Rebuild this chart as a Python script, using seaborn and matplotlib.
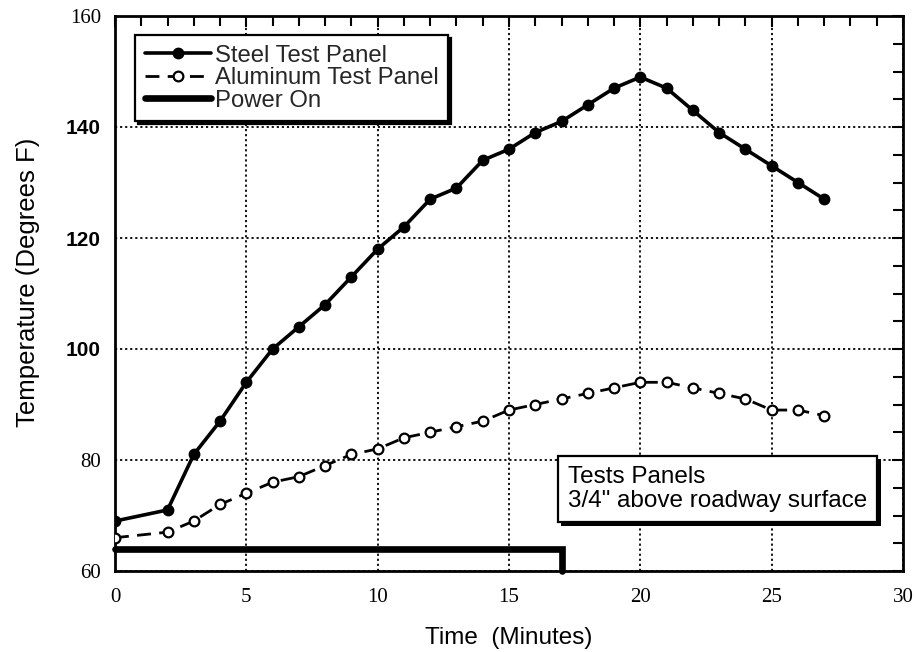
import matplotlib
matplotlib.use("Agg")
import matplotlib.pyplot as plt
import matplotlib.patheffects as pe
from matplotlib.font_manager import FontProperties
from matplotlib.ticker import MultipleLocator
import seaborn as sns

# Time in minutes (no reading was taken at minute 1)
time_min = [0, 2, 3, 4, 5, 6, 7, 8, 9, 10, 11, 12, 13, 14, 15, 16, 17, 18,
            19, 20, 21, 22, 23, 24, 25, 26, 27]
steel_temp = [69, 71, 81, 87, 94, 100, 104, 108, 113, 118, 122, 127, 129, 134,
              136, 139, 141, 144, 147, 149, 147, 143, 139, 136, 133, 130, 127]
aluminum_temp = [66, 67, 69, 72, 74, 76, 77, 79, 81, 82, 84, 85, 86, 87, 89,
                 90, 91, 92, 93, 94, 94, 93, 92, 91, 89, 89, 88]

# Heater power trace: on at 64 F level until minute 17, then switched off
power_time = [0, 17, 17]
power_level = [64, 64, 60]

x_ticks = [0, 5, 10, 15, 20, 25, 30]
y_ticks = [60, 80, 100, 120, 140, 160]
y_bold_labels = {"100", "120", "140"}

series_labels = ["Steel Test Panel", "Aluminum Test Panel", "Power On"]
note_text = 'Tests Panels\n3/4" above roadway surface'

sns.set_theme(style="white")
plt.rcParams["font.family"] = ["Liberation Sans", "DejaVu Sans"]

SANS = "Liberation Sans"
SERIF = "Liberation Serif"

fig = plt.figure(figsize=(9.16, 6.52), dpi=100)
fig.patch.set_facecolor("white")
ax = fig.add_axes([115 / 916, 81 / 652, 788 / 916, 555 / 652])
ax.set_facecolor("white")

sns.lineplot(x=time_min, y=steel_temp, ax=ax, color="black", linewidth=2.6,
             marker="o", markersize=7.5, markerfacecolor="black",
             markeredgecolor="black", markeredgewidth=1.0,
             label=series_labels[0], legend=False, zorder=3)
steel_line = ax.lines[-1]

sns.lineplot(x=time_min, y=aluminum_temp, ax=ax, color="black", linewidth=2.0,
             linestyle=(0, (5, 3)), marker="o", markersize=7,
             markerfacecolor="white", markeredgecolor="black",
             markeredgewidth=1.6, label=series_labels[1], legend=False,
             zorder=3)
alum_line = ax.lines[-1]

sns.lineplot(x=power_time, y=power_level, ax=ax, color="black", linewidth=4.8,
             sort=False, estimator=None, label=series_labels[2],
             legend=False, zorder=3, solid_joinstyle="miter", clip_on=False)
power_line = ax.lines[-1]

ax.set_xlim(0, 30)
ax.set_ylim(60, 160)

ax.set_xticks(x_ticks)
ax.set_xticklabels([str(v) for v in x_ticks])
ax.set_yticks(y_ticks)
ax.set_yticklabels([str(v) for v in y_ticks])
ax.xaxis.set_minor_locator(MultipleLocator(1))
ax.yaxis.set_minor_locator(MultipleLocator(5))

for lbl in ax.get_xticklabels():
    lbl.set_fontproperties(FontProperties(family=SERIF, size=15))
for lbl in ax.get_yticklabels():
    if lbl.get_text() in y_bold_labels:
        lbl.set_fontproperties(FontProperties(family=SANS, size=15, weight="bold"))
    else:
        lbl.set_fontproperties(FontProperties(family=SERIF, size=15))

ax.tick_params(which="both", direction="in", top=True, right=True,
               width=1.5, color="black", labelcolor="black")
ax.tick_params(which="major", length=8)
ax.tick_params(which="minor", length=7)
ax.tick_params(axis="x", which="major", pad=12)
ax.tick_params(axis="y", which="major", pad=10)

ax.grid(True, which="major", color="black", linestyle=(0, (1.2, 1.6)),
        linewidth=1.3)
ax.set_axisbelow(True)

for s in ax.spines.values():
    s.set_visible(True)
    s.set_color("black")
    s.set_linewidth(2.0)

ax.set_xlabel("Time  (Minutes)", fontsize=17.5, family=SANS, color="black")
ax.set_ylabel("Temperature (Degrees F)", fontsize=18.5, family=SANS, color="black")
ax.xaxis.label.set_verticalalignment("center")
ax.yaxis.label.set_verticalalignment("center")
ax.xaxis.set_label_coords(0.5, (571 - 638) / 555)
ax.yaxis.set_label_coords((28 - 115) / 788, 0.52)

leg = ax.legend([steel_line, alum_line, power_line], series_labels,
                loc="upper left", bbox_to_anchor=(20 / 788, (571 - 35) / 555),
                borderaxespad=0, prop=FontProperties(family=SANS, size=17.2),
                frameon=True, fancybox=False, edgecolor="black",
                facecolor="white", framealpha=1, labelspacing=0.02,
                handlelength=2.8, handletextpad=0.15, borderpad=0.4,
                numpoints=1, shadow={"color": "black", "alpha": 1})
leg.get_frame().set_linewidth(1.6)
leg.set_zorder(6)

note = ax.text((717.5 - 115) / 788, (571 - 489) / 555, note_text,
               transform=ax.transAxes, fontsize=17.5, family=SANS,
               ha="center", va="center", multialignment="left",
               linespacing=1.12, color="black", zorder=6,
               bbox=dict(boxstyle="square,pad=0.42", fc="white", ec="black",
                         lw=1.6))
note.get_bbox_patch().set_path_effects([
    pe.SimplePatchShadow(offset=(2.5, -2.5), shadow_rgbFace="black", alpha=1),
    pe.Normal(),
])

fig.savefig("out.png", dpi=100, facecolor="white")
